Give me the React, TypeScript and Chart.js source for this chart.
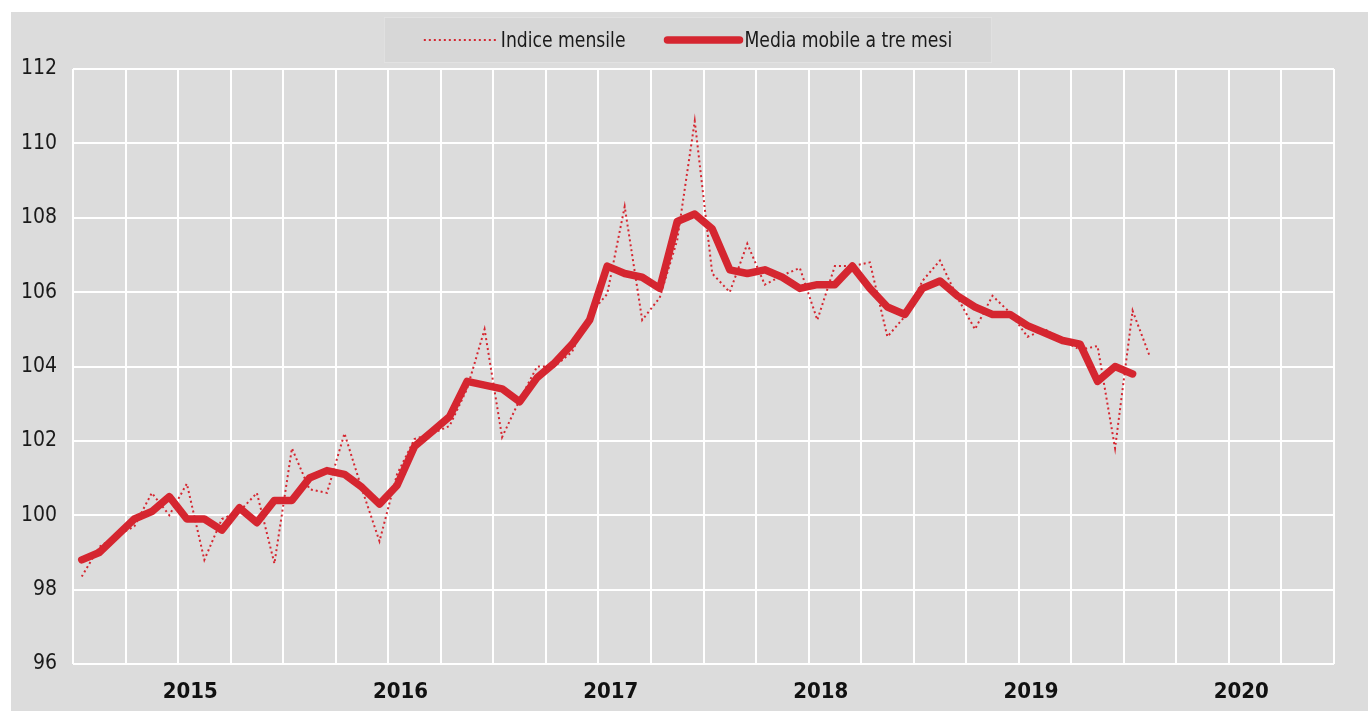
import React, { useEffect, useRef } from 'react';
import { Chart, registerables } from 'chart.js';

Chart.register(...registerables);

// ---- data ----
const YEARS = ['2015', '2016', '2017', '2018', '2019', '2020'];
const MONTHS = ['gen', 'feb', 'mar', 'apr', 'mag', 'giu', 'lug', 'ago', 'set', 'ott', 'nov', 'dic'];
const CATEGORIES = YEARS.flatMap((y) => MONTHS.map((m) => `${m} ${y}`));

const SERIES_NAMES = ['Indice mensile', 'Media mobile a tre mesi'];

const INDICE_MENSILE = [
  98.35, 99.15, 99.45, 99.7, 100.6, 100.0, 100.85, 98.8, 99.9, 100.1, 100.6, 98.7,
  101.8, 100.7, 100.6, 102.2, 100.7, 99.3, 101.1, 102.05, 102.2, 102.4, 103.4, 105.0,
  102.1, 103.1, 104.0, 104.0, 104.4, 105.4, 105.95, 108.3, 105.25, 105.85, 107.4, 110.6,
  106.5, 106.0, 107.3, 106.2, 106.45, 106.65, 105.25, 106.7, 106.7, 106.8, 104.8, 105.35,
  106.3, 106.85, 105.85, 105.0, 105.9, 105.45, 104.8, 105.0, 104.7, 104.45, 104.55, 101.8,
  105.5, 104.25,
];

const MEDIA_MOBILE = [
  98.8, 99.0, 99.45, 99.9, 100.1, 100.5, 99.9, 99.9, 99.6, 100.2, 99.8, 100.4,
  100.4, 101.0, 101.2, 101.1, 100.75, 100.3, 100.8, 101.85, 102.25, 102.65, 103.6, 103.5,
  103.4, 103.05, 103.7, 104.1, 104.6, 105.25, 106.7, 106.5, 106.4, 106.1, 107.9, 108.1,
  107.7, 106.6, 106.5, 106.6, 106.4, 106.1, 106.2, 106.2, 106.7, 106.1, 105.6, 105.4,
  106.1, 106.3, 105.9, 105.6, 105.4, 105.4, 105.1, 104.9, 104.7, 104.6, 103.6, 104.0,
  103.8,
];

const Y_MIN = 96;
const Y_MAX = 112;
const Y_STEP = 2;

// ---- style ----
const RED = '#D52630';
const GRID = '#FFFFFF';
const BG = '#DCDCDC';
const FONT = "'Liberation Sans Narrow', 'Arial Narrow', 'DejaVu Sans Condensed', sans-serif";
const MONTHS_PER_GRID = 3;
const YEAR_LABEL_POS = 6.7;
const TEXT_CONDENSE = 0.87;

const yearIndexAt = (v: number) => {
  const k = Math.round((v - YEAR_LABEL_POS) / 12);
  return Math.abs(v - (k * 12 + YEAR_LABEL_POS)) < 1e-6 ? k : -1;
};

const bgPlugin = {
  id: 'bgPlugin',
  beforeDraw(chart: any) {
    const { ctx, width, height } = chart;
    ctx.save();
    ctx.fillStyle = '#FFFFFF';
    ctx.fillRect(0, 0, width, height);
    ctx.fillStyle = BG;
    ctx.fillRect(11, 12, width - 11, height - 12);
    ctx.restore();
  },
};

const legendPlugin = {
  id: 'boxLegend',
  afterDraw(chart: any) {
    const { ctx } = chart;
    const ds = chart.data.datasets;
    ctx.save();
    ctx.font = `22px ${FONT}`;
    const sample = 72;
    const gap = 5;
    const spacing = 42;
    const padX = 40;
    const w0 = ctx.measureText(ds[0].label).width * TEXT_CONDENSE;
    const w1 = ctx.measureText(ds[1].label).width * TEXT_CONDENSE;
    const total = sample + gap + w0 + spacing + sample + gap + w1;
    const boxW = total + padX * 2;
    const cx = 688;
    const left = cx - boxW / 2;
    const top = 17;
    const h = 46;
    ctx.fillStyle = '#D7D7D7';
    ctx.fillRect(left, top, boxW, h);
    ctx.strokeStyle = '#E2E2E2';
    ctx.lineWidth = 1;
    ctx.strokeRect(left + 0.5, top + 0.5, boxW - 1, h - 1);
    const y = top + h / 2;
    let x = left + padX;
    const drawItem = (d: any, w: number) => {
      ctx.beginPath();
      ctx.setLineDash(d.borderDash || []);
      ctx.lineWidth = d.borderWidth;
      ctx.lineCap = d.borderDash ? 'butt' : 'round';
      ctx.strokeStyle = d.borderColor;
      ctx.moveTo(x, y);
      ctx.lineTo(x + sample, y);
      ctx.stroke();
      ctx.setLineDash([]);
      x += sample + gap;
      ctx.save();
      ctx.translate(x, y + 1);
      ctx.scale(TEXT_CONDENSE, 1);
      ctx.fillStyle = '#1A1A1A';
      ctx.textBaseline = 'middle';
      ctx.textAlign = 'left';
      ctx.fillText(d.label, 0, 0);
      ctx.restore();
      x += w + spacing;
    };
    drawItem(ds[0], w0);
    drawItem(ds[1], w1);
    ctx.restore();
  },
};

export default function App() {
  const ref = useRef<HTMLCanvasElement | null>(null);

  useEffect(() => {
    document.body.style.margin = '0';
    document.body.style.overflow = 'hidden';
    const canvas = ref.current;
    if (!canvas) return;
    const nCat = CATEGORIES.length;
    const chart = new Chart(canvas, {
      type: 'line',
      data: {
        labels: CATEGORIES,
        datasets: [
          {
            label: SERIES_NAMES[0],
            data: INDICE_MENSILE,
            borderColor: RED,
            borderWidth: 2,
            borderDash: [2, 3],
            pointRadius: 0,
            tension: 0,
            fill: false,
          },
          {
            label: SERIES_NAMES[1],
            data: MEDIA_MOBILE,
            borderColor: RED,
            borderWidth: 7.5,
            borderCapStyle: 'round',
            borderJoinStyle: 'round',
            pointRadius: 0,
            tension: 0,
            fill: false,
          },
        ],
      },
      options: {
        animation: false,
        responsive: false,
        maintainAspectRatio: false,
        layout: { padding: { top: 69, right: 34, left: 0, bottom: 0 } },
        plugins: {
          legend: { display: false },
          tooltip: { enabled: false },
        },
        scales: {
          x: {
            type: 'category',
            display: false,
            offset: true,
          },
          xg: {
            type: 'linear',
            position: 'bottom',
            min: 0,
            max: nCat,
            afterBuildTicks: (scale: any) => {
              const ticks: any[] = [];
              for (let v = 0; v <= nCat; v += MONTHS_PER_GRID) ticks.push({ value: v });
              YEARS.forEach((_, i) => ticks.push({ value: i * 12 + YEAR_LABEL_POS }));
              scale.ticks = ticks;
            },
            afterFit: (scale: any) => {
              scale.height = 47;
            },
            border: { display: false },
            grid: {
              drawTicks: false,
              lineWidth: 2,
              color: (ctx: any) =>
                ctx.tick && ctx.tick.value % MONTHS_PER_GRID === 0 ? GRID : 'rgba(0,0,0,0)',
            },
            ticks: {
              autoSkip: false,
              maxRotation: 0,
              minRotation: 0,
              padding: 15,
              color: '#111111',
              font: { family: FONT, size: 22, weight: 'bold' },
              callback: (value: any) => {
                const k = yearIndexAt(Number(value));
                return k >= 0 ? YEARS[k] : '';
              },
            },
          },
          y: {
            min: Y_MIN,
            max: Y_MAX,
            afterFit: (scale: any) => {
              scale.width = 73;
            },
            border: { display: false },
            grid: { color: GRID, lineWidth: 2, drawTicks: false },
            ticks: {
              stepSize: Y_STEP,
              padding: 16,
              color: '#1A1A1A',
              font: { family: FONT, size: 21 },
            },
          },
        },
      },
      plugins: [bgPlugin, legendPlugin],
    } as any);
    return () => chart.destroy();
  }, []);

  return (
    <canvas
      ref={ref}
      width={1368}
      height={711}
      style={{ display: 'block', width: '1368px', height: '711px' }}
    />
  );
}
